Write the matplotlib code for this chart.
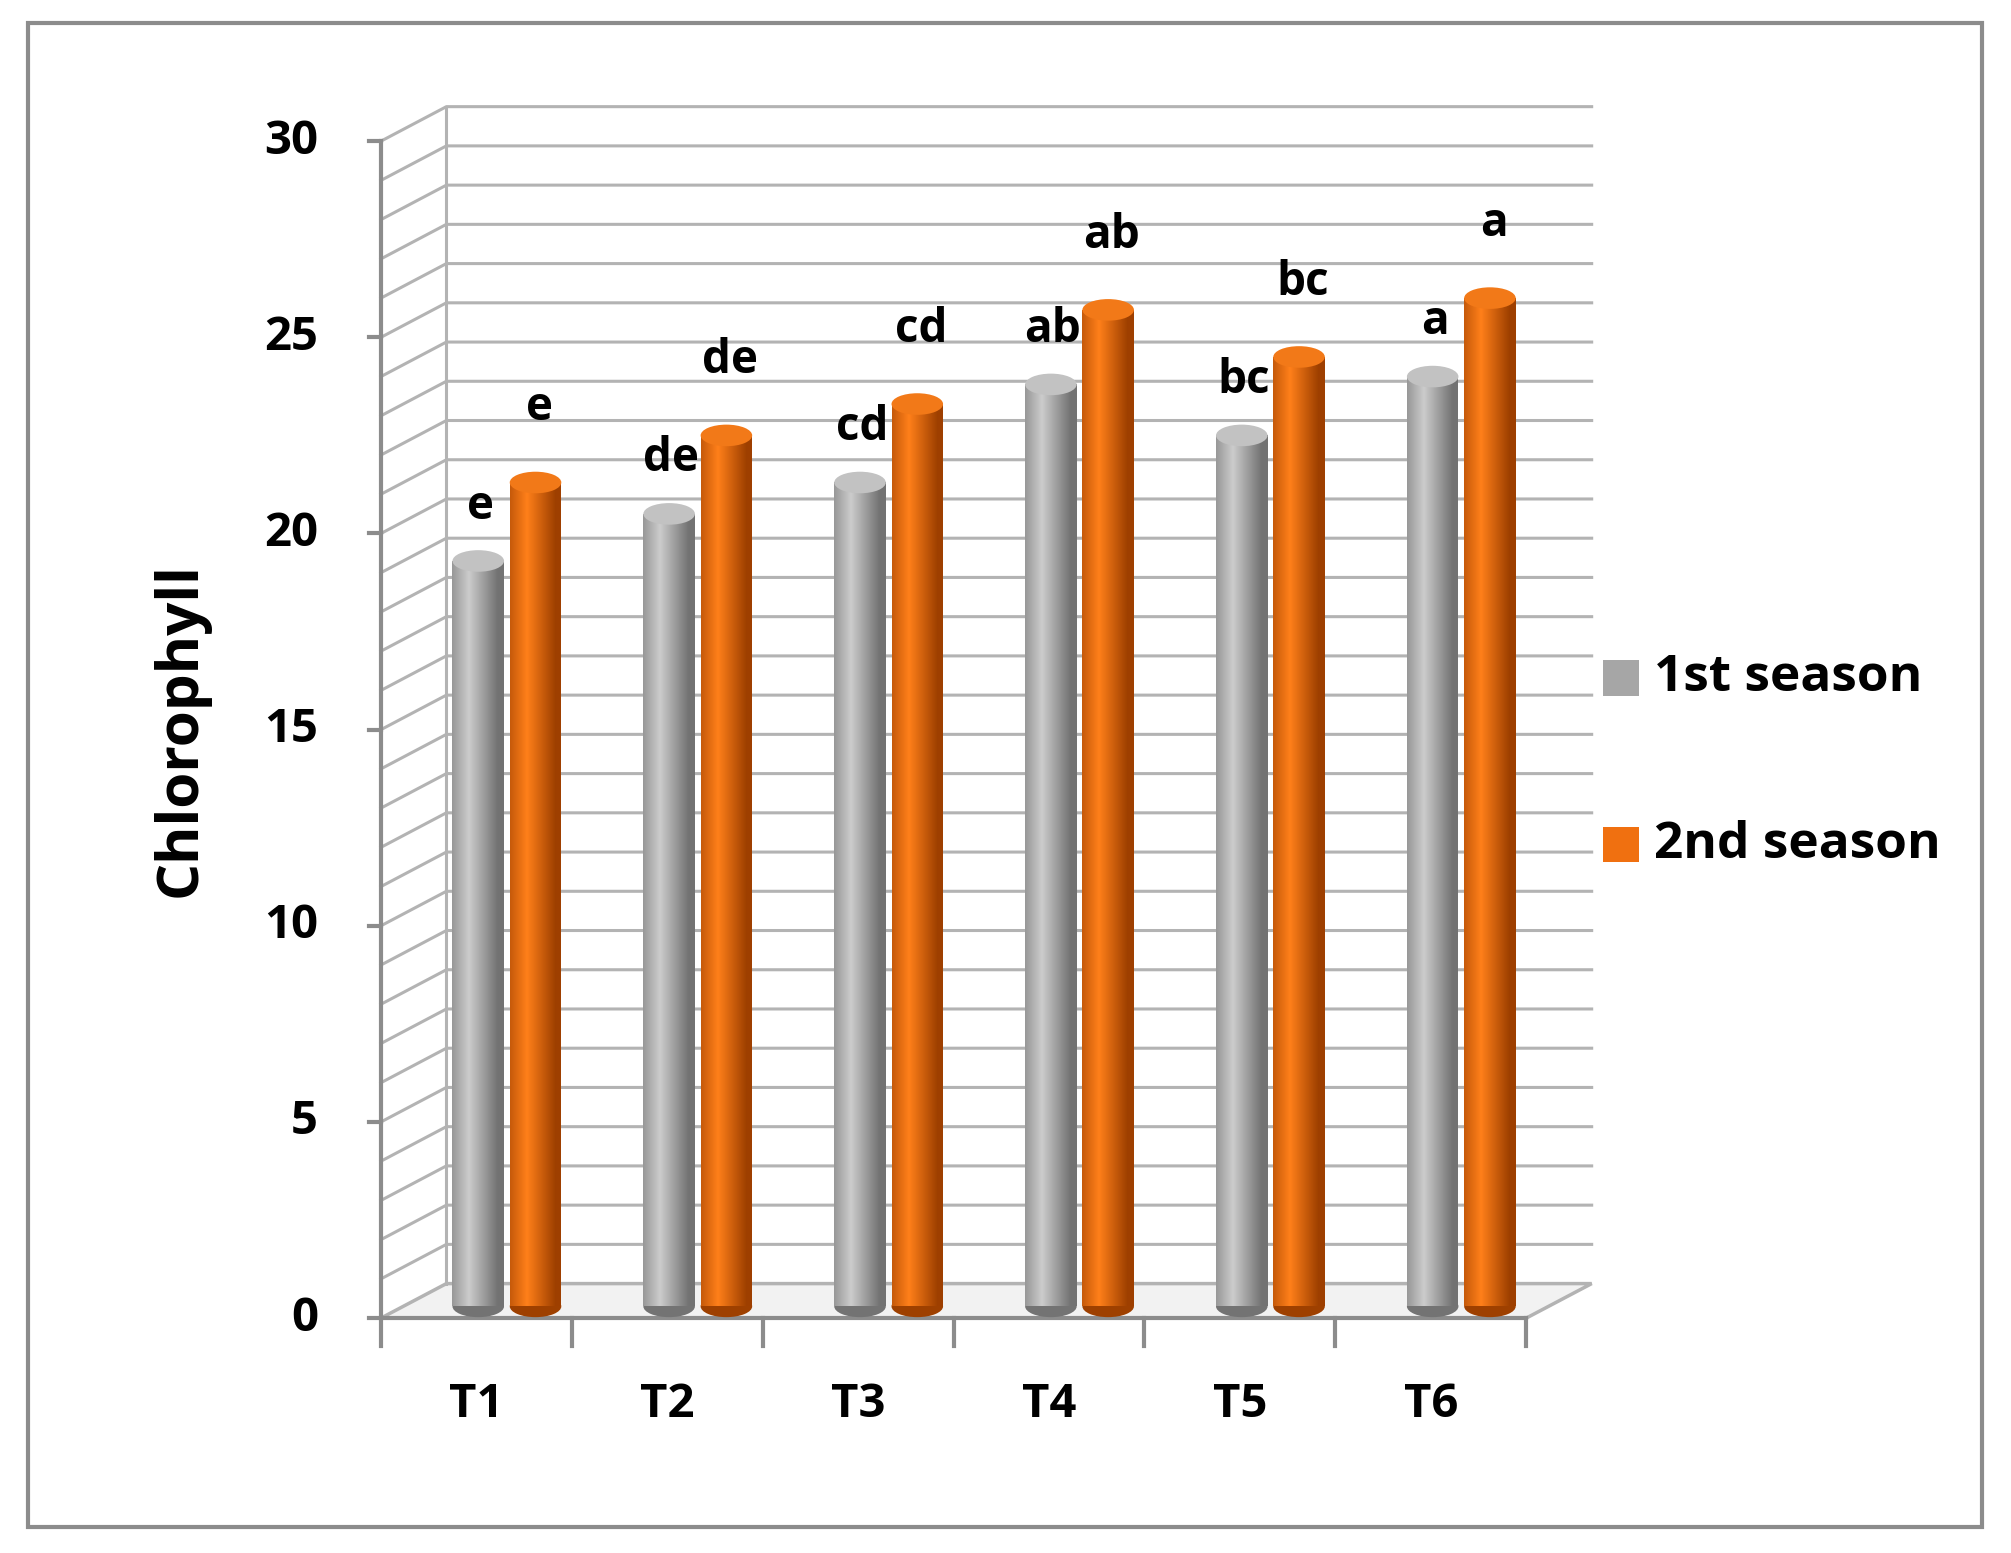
import numpy as np
import matplotlib.pyplot as plt
from matplotlib.patches import Ellipse, Rectangle, Polygon

treatments = ['T1', 'T2', 'T3', 'T4', 'T5', 'T6']
season1 = [19.3, 20.5, 21.3, 23.8, 22.5, 24.0]
season2 = [21.3, 22.5, 23.3, 25.7, 24.5, 26.0]
letters1 = ['e', 'de', 'cd', 'ab', 'bc', 'a']
letters2 = ['e', 'de', 'cd', 'ab', 'bc', 'a']

plt.rcParams['font.family'] = ['Open Sans', 'DejaVu Sans']

W, H = 1568, 1210
fig = plt.figure(figsize=(20.11, 15.53), dpi=100)
# outer border
fig.patches.append(Rectangle((22 / W, 1 - 1190 / H), (1545 - 22) / W, (1190 - 18) / H,
                             transform=fig.transFigure, fill=False, ec='#8c8c8c', lw=3))

ax = fig.add_axes([297 / W, 1 - 1027 / H, (1190 - 297) / W, (1027 - 110) / H])
ax.set_xlim(0, 6)
ax.set_ylim(0, 30)
ax.axis('off')

dx, dy = 0.343, 0.88
grid_c = '#b3b3b3'
# floor
ax.add_patch(Polygon([(0, 0), (6, 0), (6 + dx, dy), (dx, dy)], closed=True,
                     fc='#f2f2f2', ec=grid_c, lw=2.5, clip_on=False, zorder=1))
for k in range(1, 31):
    ax.plot([0, dx, 6 + dx], [k, k + dy, k + dy], color=grid_c, lw=2.2,
            clip_on=False, zorder=1)
ax.plot([dx, dx], [dy, 30 + dy], color=grid_c, lw=2.2, clip_on=False, zorder=1)
ax.plot([0, 6], [0, 0], color='#8c8c8c', lw=3, clip_on=False, zorder=2)

# axes
ax.plot([0, 0], [0, 30], color='#8c8c8c', lw=3, clip_on=False, zorder=2)
for v in range(0, 31, 5):
    ax.plot([-0.06, 0], [v, v], color='#8c8c8c', lw=3, clip_on=False)
    ax.text(-0.33, v, str(v), ha='right', va='center', fontsize=34, fontweight='bold')
for i in range(7):
    ax.plot([i, i], [0, -0.7], color='#8c8c8c', lw=3, clip_on=False)
for i, t in enumerate(treatments):
    ax.text(i + 0.5, -2.2, t, ha='center', va='center', fontsize=34, fontweight='bold')
ax.text(-1.05, 15, 'Chlorophyll', rotation=90, ha='center', va='center',
        fontsize=42, fontweight='bold')

bw = 0.27
cap = 0.55


def cylinder(xc, top, dark, light):
    n = 60
    t = np.linspace(-1, 1, n)
    shade = np.clip(1 - np.abs(t + 0.35) * 0.9, 0, 1)
    cols = np.array([dark + (light - dark) * s for s in shade])[None, :, :]
    im = ax.imshow(cols, extent=(xc - bw / 2, xc + bw / 2, 0.3, top), aspect='auto',
                   zorder=3, interpolation='bilinear')
    body = Polygon([(xc - bw / 2, 0.3), (xc - bw / 2, top), (xc + bw / 2, top),
                    (xc + bw / 2, 0.3)], closed=True, transform=ax.transData)
    im.set_clip_path(body)
    ax.add_patch(Ellipse((xc, 0.3), bw, cap, fc=dark, ec='none', zorder=2.9))
    ax.add_patch(Ellipse((xc, top), bw, cap, fc=light * 0.95, ec='none', zorder=4))


gdark, glight = np.array([0.45, 0.45, 0.45]), np.array([0.80, 0.80, 0.80])
odark, olight = np.array([0.62, 0.25, 0.0]), np.array([1.0, 0.50, 0.10])
for i in range(6):
    cylinder(i + 0.51, season1[i], gdark, glight)
    cylinder(i + 0.81, season2[i], odark, olight)
    ax.text(i + 0.52, season1[i] + 1.4, letters1[i], ha='center', va='center',
            fontsize=33, fontweight='bold', zorder=5)
    ax.text(i + 0.83, season2[i] + 1.9, letters2[i], ha='center', va='center',
            fontsize=33, fontweight='bold', zorder=5)

# legend
for y, lab, c in [(528, '1st season', '#a6a6a6'), (658, '2nd season', '#f07010')]:
    fig.patches.append(Rectangle((1250 / W, 1 - (y + 14) / H), 28 / W, 28 / H,
                                 transform=fig.transFigure, fc=c, ec='none'))
    fig.text(1290 / W, 1 - y / H, lab, ha='left', va='center', fontsize=37,
             fontweight='bold')

fig.savefig('out.png', dpi=100)
